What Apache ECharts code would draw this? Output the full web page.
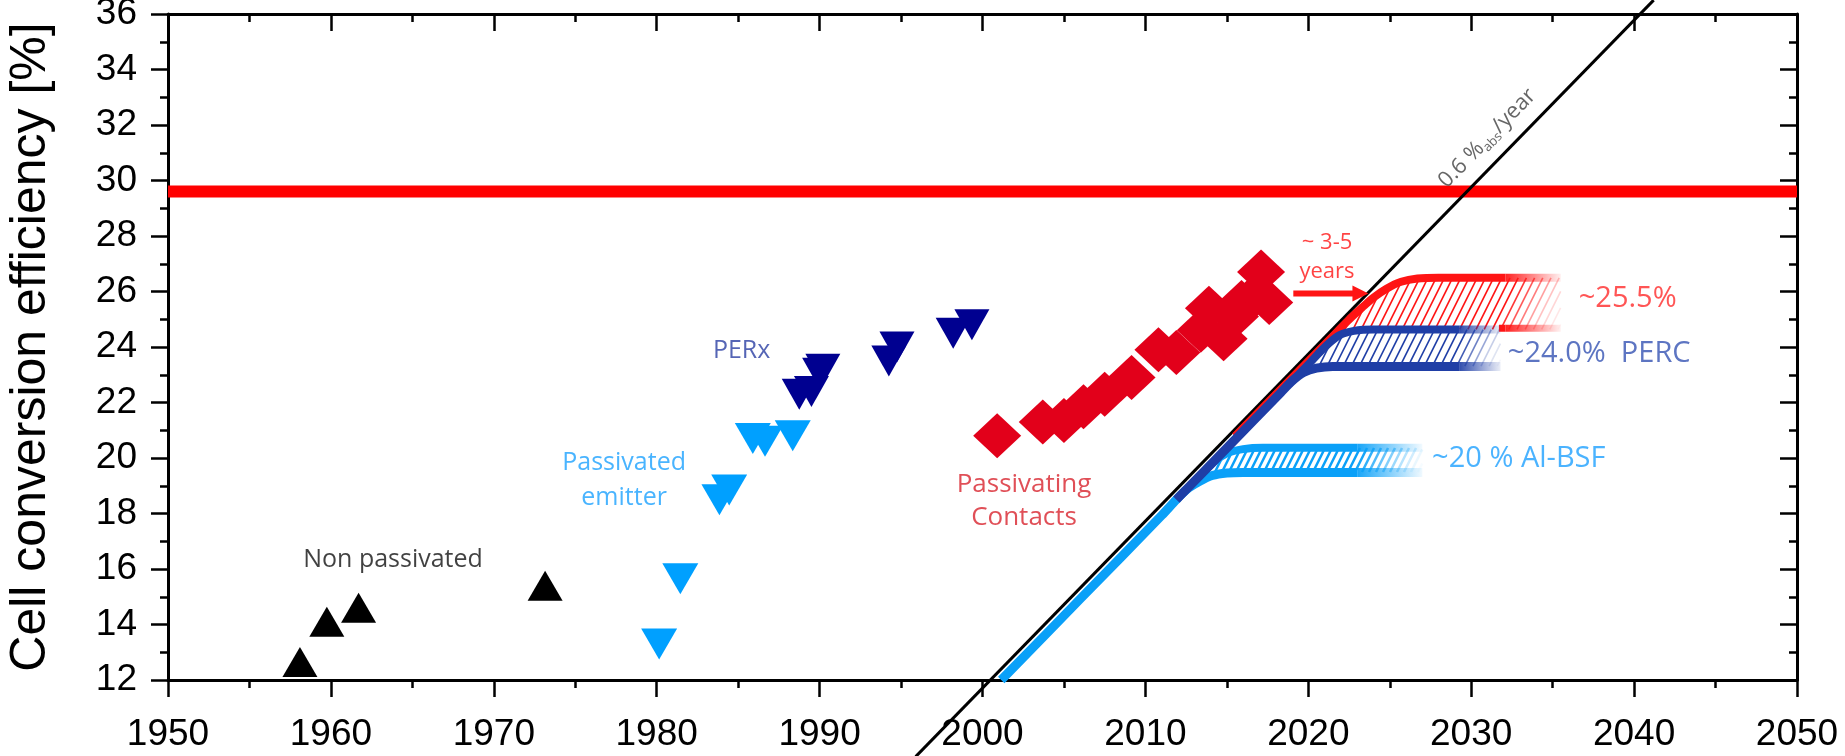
<!DOCTYPE html>
<html>
<head>
<meta charset="utf-8">
<script src="https://cdn.jsdelivr.net/npm/echarts@6/dist/echarts.min.js"></script>
<style>
  html, body { margin: 0; padding: 0; background: #ffffff; }
  #chart { width: 1845px; height: 756px; }
</style>
</head>
<body>
<div id="chart"></div>
<script>
// ---- axis ticks ----
const xTicks = [1950, 1960, 1970, 1980, 1990, 2000, 2010, 2020, 2030, 2040, 2050];
const yTicks = [12, 14, 16, 18, 20, 22, 24, 26, 28, 30, 32, 34, 36];

// ---- record cell efficiencies [year, %] ----
const nonPassivated = [[1958.1, 12.65], [1959.75, 14.1], [1961.7, 14.6], [1973.15, 15.4]];
const passivatedEmitter = [[1980.15, 13.3], [1981.45, 15.65], [1983.85, 18.5], [1984.45, 18.85],
  [1985.9, 20.7], [1986.65, 20.6], [1988.35, 20.8]];
const perx = [[1988.75, 22.3], [1989.5, 22.4], [1990.0, 23.05], [1990.2, 23.2],
  [1994.25, 23.5], [1994.75, 24.0], [1998.2, 24.5], [1999.35, 24.8]];
const passivatingContacts = [[2000.9, 20.8], [2003.7, 21.3], [2005.0, 21.35], [2006.2, 21.85],
  [2007.5, 22.3], [2009.15, 22.9], [2010.8, 23.9], [2011.9, 23.8], [2013.4, 24.6], [2013.9, 25.4],
  [2014.8, 24.3], [2015.5, 25.1], [2015.9, 25.6], [2016.8, 25.9], [2017.1, 26.7], [2017.6, 25.6]];

// ---- limit and trend ----
const limitLine = [[1950, 29.6], [2050, 29.6]];
const trendLine = [[1995.9, 9.24], [2041.2, 36.5]];

// ---- industrial roadmaps: band edges [year, %] ----
const alBsfLower = [[2001.15, 12], [2006.0, 14.92], [2011.0, 17.93], [2011.9, 18.5], [2012.5, 18.85],
  [2013.3, 19.15], [2014.1, 19.37], [2015.0, 19.46], [2016.0, 19.48], [2017.5, 19.48], [2023.0, 19.48]];
const alBsfUpper = [[2013.3, 19.31], [2014.2, 19.86], [2015.0, 20.17], [2016.0, 20.32], [2017.2, 20.37],
  [2018.5, 20.37], [2023.0, 20.37]];
const alBsfFadeEnd = 2027.0;

const percLower = [[2011.9, 18.5], [2015.0, 20.36], [2018.3, 22.35], [2019.0, 22.77], [2019.7, 23.08],
  [2020.5, 23.24], [2021.5, 23.3], [2023.0, 23.3], [2029.3, 23.3]];
const percUpper = [[2018.8, 22.65], [2020.0, 23.37], [2020.6, 23.75], [2021.2, 24.1], [2021.9, 24.42],
  [2022.8, 24.58], [2024.0, 24.63], [2025.5, 24.63], [2029.3, 24.63]];
const percFadeEnd = 2031.8;

const pcUpper = [[2015.5, 20.78], [2019.0, 22.89], [2021.8, 24.57], [2022.5, 24.99], [2023.3, 25.42],
  [2024.0, 25.78], [2024.8, 26.1], [2025.7, 26.35], [2026.7, 26.47], [2028.0, 26.5], [2032.1, 26.5]];
const pcLowerTail = [[2031.7, 24.68], [2032.1, 24.68]];
const pcFadeEnd = 2035.5;

const lagArrow = [[2019.08, 25.93], [2023.2, 25.93]];

// ---- colours ----
const RED = '#ff1414';
const RED_DARK = '#e2001a';
const BLUE = '#1f3ea6';
const NAVY = '#000090';
const LIGHT = '#0aa0f8';
const SANS = '"Open Sans", "Noto Sans", sans-serif';
const AXISFONT = '"Liberation Sans", Arial, sans-serif';

const chart = echarts.init(document.getElementById('chart'), null, { renderer: 'canvas' });

function rgba(hex, a) {
  const n = parseInt(hex.slice(1), 16);
  return 'rgba(' + (n >> 16) + ',' + ((n >> 8) & 255) + ',' + (n & 255) + ',' + a + ')';
}

function edgeLine(data, color, width, z) {
  return {
    type: 'line', data: data, smooth: 0.3, symbol: 'none',
    lineStyle: { color: color, width: width, cap: 'butt', join: 'round' },
    z: z, silent: true, animation: false
  };
}

function fadeLine(data, fadeEnd, color, width, z) {
  const last = data[data.length - 1];
  return {
    type: 'line', data: [last, [fadeEnd, last[1]]], symbol: 'none',
    lineStyle: {
      width: width, cap: 'butt',
      color: new echarts.graphic.LinearGradient(0, 0, 1, 0, [
        { offset: 0, color: color }, { offset: 1, color: rgba(color, 0) }
      ])
    },
    z: z, silent: true, animation: false
  };
}

// Diagonal hatching between two edges, fading out after solidEnd
function hatch(upper, lower, solidEnd, fadeEnd, color, gap, lw, z) {
  return {
    type: 'custom', coordinateSystem: 'cartesian2d', data: [[2020, 20]], encode: { x: 0, y: 1 },
    silent: true, animation: false, z: z,
    renderItem: function (params, api) {
      const U = upper.map(p => api.coord(p)).concat([api.coord([fadeEnd, upper[upper.length - 1][1]])]);
      const L = lower.map(p => api.coord(p)).concat([api.coord([fadeEnd, lower[lower.length - 1][1]])]);
      const xs = api.coord([solidEnd, 20])[0];
      const xf = api.coord([fadeEnd, 20])[0];
      const at = (P, x) => {
        for (let i = 0; i < P.length - 1; i++) {
          const a = P[i], b = P[i + 1];
          if (x >= a[0] && x <= b[0]) {
            const t = (x - a[0]) / ((b[0] - a[0]) || 1);
            return a[1] + t * (b[1] - a[1]);
          }
        }
        return null;
      };
      const yTop = Math.min.apply(null, U.map(p => p[1]));
      const yBot = Math.max.apply(null, L.map(p => p[1]));
      const k = 0.5;
      const x0 = Math.max(U[0][0], L[0][0]) - k * (yBot - yTop);
      const children = [];
      for (let c = x0; c <= xf; c += gap) {
        let s = null, e = null;
        for (let y = yBot; y >= yTop; y -= 0.5) {
          const x = c + k * (yBot - y);
          const yu = at(U, x), yl = at(L, x);
          if (yu !== null && yl !== null && y >= yu && y <= yl) {
            if (!s) s = [x, y];
            e = [x, y];
          } else if (s) break;
        }
        if (!s || s === e) continue;
        const mx = (s[0] + e[0]) / 2;
        const op = mx <= xs ? 1 : Math.max(0, 1 - (mx - xs) / (xf - xs));
        if (op <= 0.02) continue;
        children.push({
          type: 'line', shape: { x1: s[0], y1: s[1], x2: e[0], y2: e[1] },
          style: { stroke: color, lineWidth: lw, opacity: op }
        });
      }
      return { type: 'group', children: children };
    }
  };
}

function textLabel(text, at, opts) {
  return {
    type: 'scatter', data: [{ value: at }], symbolSize: 1,
    itemStyle: { color: 'rgba(0,0,0,0)' }, silent: true, animation: false, z: 20,
    label: Object.assign({
      show: true, position: 'inside', formatter: text, fontFamily: SANS,
      align: 'left', verticalAlign: 'middle'
    }, opts)
  };
}

function scatter(data, color, symbol, size, rotate) {
  return {
    type: 'scatter', data: data, symbol: symbol, symbolSize: size, symbolRotate: rotate || 0,
    itemStyle: { color: color, opacity: 1 }, z: 12, animation: false, silent: true
  };
}

const axisLine = { show: true, onZero: false, lineStyle: { color: '#000', width: 3 } };
const tickOut = { show: true, inside: false, length: 17, lineStyle: { color: '#000', width: 2.5 } };
const tickIn = { show: true, inside: true, length: 17, lineStyle: { color: '#000', width: 2.5 } };
const minorOut = { show: true, splitNumber: 2, length: 8, lineStyle: { color: '#000', width: 2.5 } };
const plain = v => String(v);

const xBase = {
  type: 'value', min: xTicks[0], max: xTicks[xTicks.length - 1], interval: xTicks[1] - xTicks[0],
  splitLine: { show: false }, axisLine: axisLine
};
const yBase = {
  type: 'value', min: yTicks[0], max: yTicks[yTicks.length - 1], interval: yTicks[1] - yTicks[0],
  splitLine: { show: false }, axisLine: axisLine
};

const option = {
  backgroundColor: '#ffffff',
  animation: false,
  grid: { left: 168, right: 48, top: 14, bottom: 76, containLabel: false, outerBoundsMode: 'none' },
  xAxis: [
    Object.assign({}, xBase, {
      position: 'bottom', axisTick: tickOut, minorTick: minorOut,
      axisLabel: { show: true, margin: 36, color: '#000', fontSize: 37, fontFamily: AXISFONT, formatter: plain }
    }),
    Object.assign({}, xBase, {
      position: 'top', axisTick: tickIn, axisLabel: { show: false },
      minorTick: Object.assign({}, minorOut)
    })
  ],
  yAxis: [
    Object.assign({}, yBase, {
      position: 'left', axisTick: tickOut, minorTick: minorOut,
      axisLabel: { show: true, margin: 31, color: '#000', fontSize: 37, fontFamily: AXISFONT, formatter: plain },
      name: 'Cell conversion efficiency [%]', nameLocation: 'middle', nameGap: 112,
      nameTextStyle: { fontSize: 50, color: '#000', fontFamily: AXISFONT }
    }),
    Object.assign({}, yBase, {
      position: 'right', axisTick: tickIn, axisLabel: { show: false },
      minorTick: Object.assign({}, minorOut)
    })
  ],
  series: [
    // theoretical limit
    { type: 'line', data: limitLine, symbol: 'none', lineStyle: { color: '#ff0000', width: 12, cap: 'butt' },
      z: 1, silent: true, animation: false },
    // 0.6 %abs/year trend
    { type: 'line', data: trendLine, symbol: 'none', clip: false,
      lineStyle: { color: '#000', width: 3 }, z: 3, silent: true, animation: false },

    // passivating contacts roadmap
    hatch(pcUpper, percUpper, pcUpper[pcUpper.length - 1][0], pcFadeEnd, RED, 8.2, 1.6, 4),
    edgeLine(pcUpper, RED, 8, 5),
    fadeLine(pcUpper, pcFadeEnd, RED, 8, 5),
    edgeLine(pcLowerTail, RED, 7, 5),
    fadeLine(pcLowerTail, pcFadeEnd, RED, 7, 5),
    { type: 'line', data: lagArrow, symbol: 'none', lineStyle: { color: RED, width: 6, cap: 'butt' },
      z: 5, silent: true, animation: false,
      markPoint: { silent: true, animation: false, symbol: 'triangle', symbolSize: [16, 16], symbolRotate: -90,
        itemStyle: { color: RED }, label: { show: false },
        data: [{ coord: lagArrow[lagArrow.length - 1] }] } },

    // Al-BSF roadmap
    hatch(alBsfUpper, alBsfLower, alBsfUpper[alBsfUpper.length - 1][0], alBsfFadeEnd, LIGHT, 7, 2.5, 6),
    edgeLine(alBsfLower, LIGHT, 9, 7),
    fadeLine(alBsfLower, alBsfFadeEnd, LIGHT, 9, 7),
    edgeLine(alBsfUpper, LIGHT, 8, 7),
    fadeLine(alBsfUpper, alBsfFadeEnd, LIGHT, 8, 7),

    // PERC roadmap
    hatch(percUpper, percLower, percUpper[percUpper.length - 1][0], percFadeEnd, BLUE, 8.1, 1.6, 8),
    edgeLine(percLower, BLUE, 9, 9),
    fadeLine(percLower, percFadeEnd, BLUE, 9, 9),
    edgeLine(percUpper, BLUE, 8, 9),
    fadeLine(percUpper, percFadeEnd, BLUE, 8, 9),

    // record cells
    scatter(nonPassivated, '#000000', 'triangle', [35, 30], 0),
    scatter(passivatedEmitter, '#00a0ff', 'triangle', [36, 31], 180),
    scatter(perx, NAVY, 'triangle', [35, 31], 180),
    scatter(passivatingContacts, RED_DARK, 'diamond', [48, 45], 0),

    // annotations
    textLabel('Non passivated', [1958.3, 16.32], { fontSize: 25, color: '#111111' }),
    textLabel('PERx', [1983.45, 23.87], { fontSize: 25, color: '#2a3ea3' }),
    textLabel('Passivated\nemitter', [1978.0, 19.2], { fontSize: 25, color: '#1ba1ff', align: 'center', lineHeight: 35 }),
    textLabel('Passivating\nContacts', [2002.55, 18.43], { fontSize: 26, color: '#d8232d', align: 'center', lineHeight: 33 }),
    textLabel('~ 3-5\nyears', [2021.15, 27.23], { fontSize: 22, color: RED, align: 'center', lineHeight: 29 }),
    textLabel('~25.5%', [2036.6, 25.75], { fontSize: 29, color: '#ff2a2a' }),
    textLabel('~24.0%  PERC', [2032.25, 23.75], { fontSize: 29, color: '#3552b3' }),
    textLabel('~20 % Al-BSF', [2027.6, 19.99], { fontSize: 29, color: '#1ea0ff' }),
    textLabel('0.6 %{sub|abs}/year', [2030.99, 31.52], {
      fontSize: 22, color: '#404040', align: 'center', rotate: 45.7, lineHeight: 26,
      rich: { sub: { fontSize: 13, color: '#404040', fontFamily: SANS, verticalAlign: 'bottom', lineHeight: 26 } }
    })
  ]
};

chart.setOption(option);
</script>
</body>
</html>
